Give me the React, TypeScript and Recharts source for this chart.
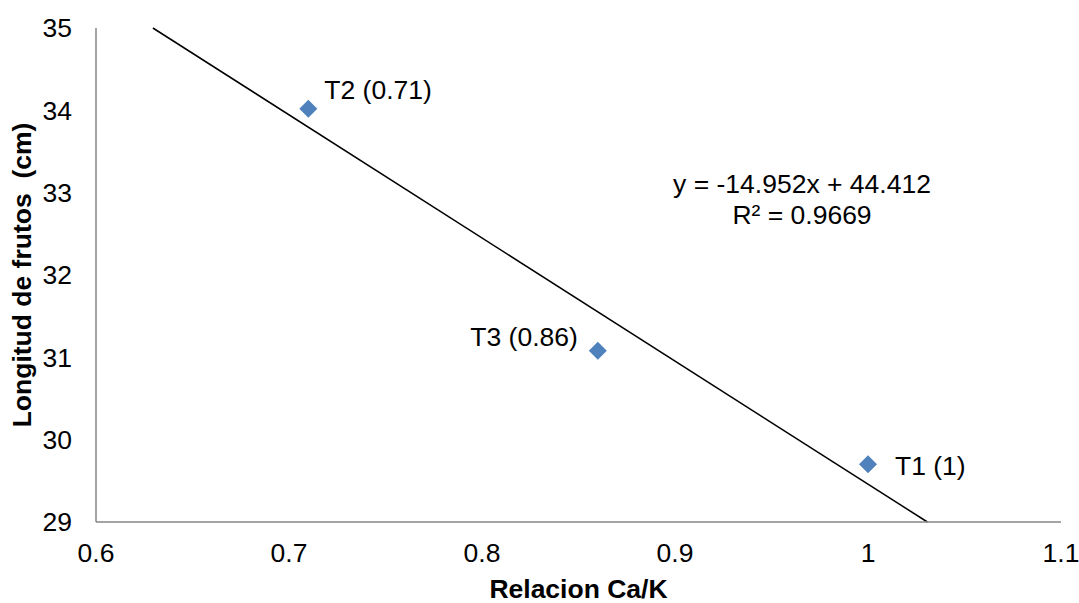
import React from "react";
import {
  Label,
  LabelList,
  ReferenceLine,
  Scatter,
  ScatterChart,
  XAxis,
  YAxis,
} from "recharts";

// Treatments: Ca/K ratio vs fruit length
const names = ["T1 (1)", "T2 (0.71)", "T3 (0.86)"];
const ratio = [1, 0.71, 0.86];
const length = [29.7, 34.02, 31.08];

// Linear trend shown on the chart
const slope = -14.952;
const intercept = 44.412;
const r2 = "0.9669";

const xTicks = [0.6, 0.7, 0.8, 0.9, 1, 1.1];
const yTicks = [29, 30, 31, 32, 33, 34, 35];

const FONT = "'Liberation Sans', Arial, sans-serif";
const FS = 26.5;
const AXIS_COLOR = "#868686";
const MARKER = "#4F81BD";

const points = names.map((name, i) => ({ name, x: ratio[i], y: length[i] }));

// trend segment clipped to the y range of the plot
const trendSegment = [
  { x: (intercept - yTicks[yTicks.length - 1]) / -slope, y: yTicks[yTicks.length - 1] },
  { x: (intercept - yTicks[0]) / -slope, y: yTicks[0] },
];

// label offsets relative to each marker
const labelOffsets: Record<string, { dx: number; dy: number; anchor: "start" | "end" }> = {
  "T1 (1)": { dx: 27, dy: 2, anchor: "start" },
  "T2 (0.71)": { dx: 16, dy: -19, anchor: "start" },
  "T3 (0.86)": { dx: -20, dy: -14, anchor: "end" },
};

const Diamond = (props: any) => {
  const { cx, cy } = props;
  const r = 9;
  return (
    <polygon
      points={`${cx},${cy - r} ${cx + r},${cy} ${cx},${cy + r} ${cx - r},${cy}`}
      fill={MARKER}
    />
  );
};

const PointLabel = (props: any) => {
  const { x, y, width, height, value } = props;
  const o = labelOffsets[value] ?? { dx: 15, dy: 0, anchor: "start" };
  const cx = x + (width ?? 0) / 2;
  const cy = y + (height ?? 0) / 2;
  return (
    <text
      x={cx + o.dx}
      y={cy + o.dy}
      textAnchor={o.anchor}
      dominantBaseline="central"
      fontSize={FS}
      fontFamily={FONT}
      fill="#000"
    >
      {value}
    </text>
  );
};

export default function App() {
  return (
    <div style={{ position: "absolute", left: 0, top: 0, width: 1079, height: 603, background: "#fff" }}>
      <ScatterChart width={1079} height={603} margin={{ top: 28, right: 18, bottom: 0, left: 0 }}>
        <XAxis
          type="number"
          dataKey="x"
          domain={[0.6, 1.1]}
          ticks={xTicks}
          height={81}
          tickLine={false}
          tickSize={0}
          tickMargin={21}
          stroke={AXIS_COLOR}
          strokeWidth={1.5}
          tick={{ fontSize: FS, fill: "#000", fontFamily: FONT }}
          allowDataOverflow
        >
          <Label
            content={({ viewBox }: any) => (
              <text
                x={viewBox.x + viewBox.width / 2}
                y={viewBox.y + 67}
                textAnchor="middle"
                dominantBaseline="central"
                fontSize={FS}
                fontWeight="bold"
                fontFamily={FONT}
                fill="#000"
              >
                Relacion Ca/K
              </text>
            )}
          />
        </XAxis>
        <YAxis
          type="number"
          dataKey="y"
          domain={[29, 35]}
          ticks={yTicks}
          width={96}
          tickLine={false}
          tickSize={0}
          tickMargin={24}
          stroke={AXIS_COLOR}
          strokeWidth={1.5}
          tick={{ fontSize: FS, fill: "#000", fontFamily: FONT }}
          allowDataOverflow
        >
          <Label
            content={({ viewBox }: any) => {
              const cx = 22;
              const cy = viewBox.y + viewBox.height / 2;
              return (
                <text
                  x={cx}
                  y={cy}
                  transform={`rotate(-90, ${cx}, ${cy})`}
                  textAnchor="middle"
                  dominantBaseline="central"
                  fontSize={FS}
                  fontWeight="bold"
                  fontFamily={FONT}
                  fill="#000"
                  style={{ whiteSpace: "pre" }}
                >
                  {"Longitud de frutos  (cm)"}
                </text>
              );
            }}
          />
        </YAxis>
        <ReferenceLine
          segment={trendSegment}
          stroke="#000"
          strokeWidth={1.5}
          ifOverflow="visible"
        />
        <Scatter data={points} shape={Diamond} isAnimationActive={false}>
          <LabelList dataKey="name" content={PointLabel} />
        </Scatter>
      </ScatterChart>
      <div
        style={{
          position: "absolute",
          left: 802,
          top: 169,
          transform: "translateX(-50%)",
          fontFamily: FONT,
          fontSize: FS,
          lineHeight: "31px",
          textAlign: "center",
          whiteSpace: "nowrap",
          color: "#000",
        }}
      >
        <div>y = {slope}x + {intercept}</div>
        <div>R² = {r2}</div>
      </div>
    </div>
  );
}
